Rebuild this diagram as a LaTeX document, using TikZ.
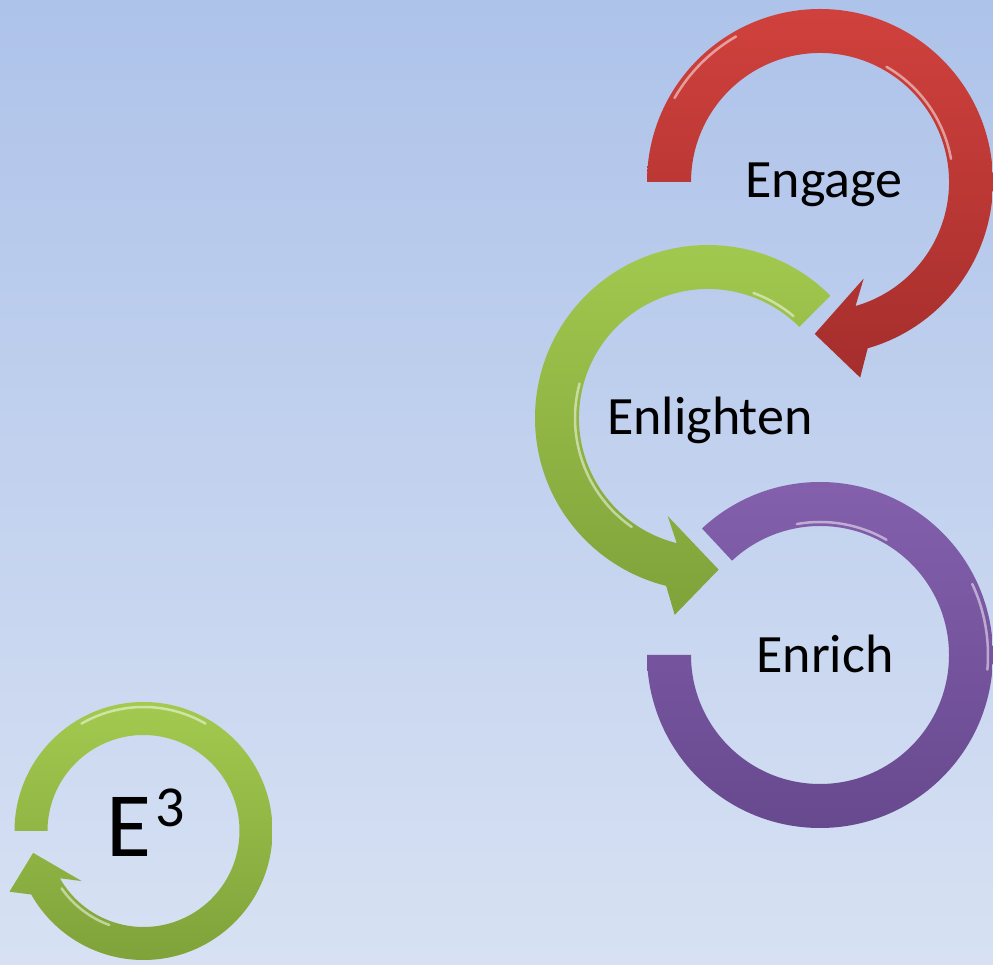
\documentclass[tikz,border=0pt]{standalone}
\usepackage{fontspec}
\setmainfont{Carlito}
\usetikzlibrary{calc}
\definecolor{bgtop}{HTML}{AEC3EA}
\definecolor{bgbot}{HTML}{D7E1F3}
\definecolor{redhi}{HTML}{D0413D}
\definecolor{redlo}{HTML}{A52E2C}
\definecolor{greenhi}{HTML}{A3CA4F}
\definecolor{greenlo}{HTML}{7FA23A}
\definecolor{purplehi}{HTML}{8561AE}
\definecolor{purplelo}{HTML}{66488D}
\begin{document}
\begin{tikzpicture}[
	x=1pt,
	y=1pt,
	line join=round,
	line cap=round,
	every node/.style={inner sep=0pt},
	word/.style={anchor=base, font=\fontsize{54}{60}\selectfont},
	redring/.style={top color=redhi, bottom color=redlo},
	greenring/.style={top color=greenhi, bottom color=greenlo},
	purplering/.style={top color=purplehi, bottom color=purplelo},
	gleam/.style={white, opacity=.5, line width=2.5pt},
	]
\shade[top color=bgtop, bottom color=bgbot] (0,0) rectangle (993,964);
\useasboundingbox (0,0) rectangle (993,964);
\coordinate (red) at (820,782);
\coordinate (green) at (708,546);
\coordinate (purple) at (820,309);
\coordinate (small) at (143.5,133);
% Engage
\coordinate (rt) at ($(red)+(-92:152)$);
\coordinate (rb) at ($(red)+(-74:152)$);
\shade[redring] ($(red)+(180:173)$) arc[start angle=180, end angle=-74, radius=173]
	-- ($(rb)!49.5pt!81:(rt)$) -- (rt) -- ($(rb)!49.5pt!-99:(rt)$)
	-- ($(red)+(-74:129)$) arc[start angle=-74, end angle=180, radius=129] -- cycle;
\draw[gleam] ($(red)+(60:133)$) arc[start angle=60, end angle=10, radius=133];
\draw[gleam] ($(red)+(150:168)$) arc[start angle=150, end angle=120, radius=168];
% Enlighten
\coordinate (gt) at ($(green)+(274:152)$);
\coordinate (gb) at ($(green)+(256:152)$);
\shade[greenring] ($(green)+(45:173)$) arc[start angle=45, end angle=256, radius=173]
	-- ($(gb)!49.5pt!-81:(gt)$) -- (gt) -- ($(gb)!49.5pt!99:(gt)$)
	-- ($(green)+(256:129)$) arc[start angle=256, end angle=45, radius=129] -- cycle;
\draw[gleam] ($(green)+(70:133)$) arc[start angle=70, end angle=50, radius=133];
\draw[gleam] ($(green)+(165:133)$) arc[start angle=165, end angle=235, radius=133];
% Enrich
\shade[purplering] ($(purple)+(133:173)$) arc[start angle=133, end angle=-180, radius=173]
	-- ($(purple)+(180:129)$) arc[start angle=-180, end angle=133, radius=129] -- cycle;
\draw[gleam] ($(purple)+(25:168)$) arc[start angle=25, end angle=-5, radius=168];
\draw[gleam] ($(purple)+(100:133)$) arc[start angle=100, end angle=60, radius=133];
% E3
\coordinate (st) at ($(small)+(-168.8:112.5)$);
\coordinate (sb) at ($(small)+(-150.5:112.5)$);
\shade[greenring] ($(small)+(180:129)$) arc[start angle=180, end angle=-150.5, radius=129]
	-- ($(sb)!36.5pt!78:(st)$) -- (st) -- ($(sb)!36.5pt!-102:(st)$)
	-- ($(small)+(-150.5:96)$) arc[start angle=-150.5, end angle=180, radius=96] -- cycle;
\draw[gleam] ($(small)+(120:124)$) arc[start angle=120, end angle=60, radius=124];
\draw[gleam] ($(small)+(-110:100)$) arc[start angle=-110, end angle=-145, radius=100];
\node[word] (engage) at ($(red)+(4,-16)$) {Engage};
\node[word] (enlighten) at ($(green)+(2,-17)$) {Enlighten};
\node[word] (enrich) at ($(purple)+(5,-18)$) {Enrich};
\node[anchor=base, font=\fontsize{92}{100}\selectfont] (ecube) at ($(small)+(2,-26)$)
	{E\kern4pt\raisebox{30pt}{\fontsize{58}{60}\selectfont 3}};
\end{tikzpicture}
\end{document}
